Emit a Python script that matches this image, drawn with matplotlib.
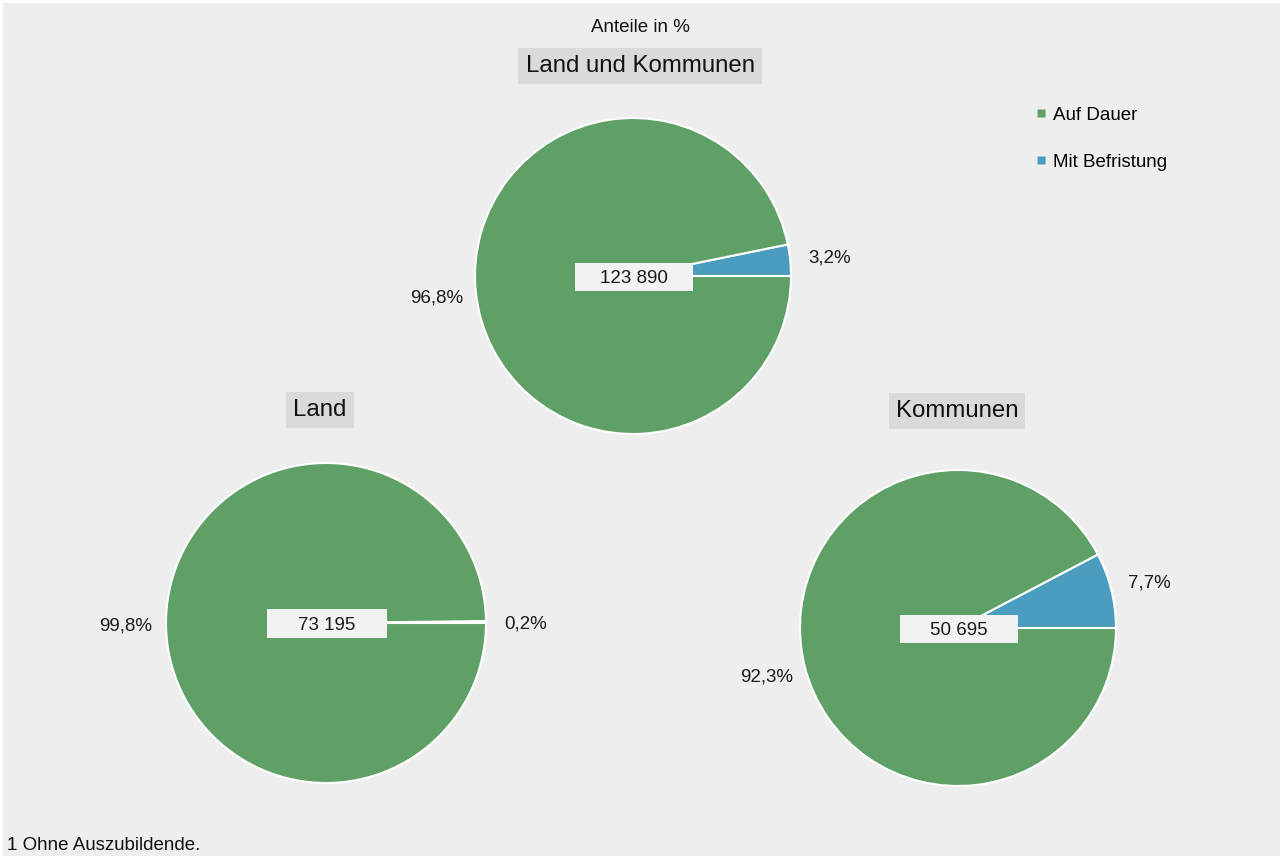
import matplotlib
matplotlib.use("Agg")
import matplotlib.pyplot as plt
from matplotlib.lines import Line2D
from matplotlib.patches import Rectangle

plt.rcParams['font.family'] = ['Liberation Sans', 'DejaVu Sans']

# Data
categories = ["Mit Befristung", "Auf Dauer"]
legend_order = ["Auf Dauer", "Mit Befristung"]
colors = {"Auf Dauer": "#5fa066", "Mit Befristung": "#4b9dc0"}
groups = ["Land und Kommunen", "Land", "Kommunen"]
shares = {
    "Land und Kommunen": [3.2, 96.8],
    "Land": [0.2, 99.8],
    "Kommunen": [7.7, 92.3],
}
totals = {"Land und Kommunen": "123 890", "Land": "73 195", "Kommunen": "50 695"}
title = "Anteile in %"
footnote = "1 Ohne Auszubildende."

W, H = 1284, 858
BG = "#edeeed"
FS = 13.5
fig = plt.figure(figsize=(W / 100, H / 100), dpi=100, facecolor="white")
# gray panel
fig.patches.append(Rectangle((3 / W, 2 / H), (W - 7) / W, (H - 5) / H,
                             transform=fig.transFigure, facecolor=BG,
                             edgecolor="none", zorder=-10))

# pie layout (centre x, centre y from top, radius, title pos) in pixels
layout = {
    "Land und Kommunen": (633, 276, 158, (640, 66)),
    "Land": (326, 623, 160, (320, 410)),
    "Kommunen": (958, 628, 158, (957, 411)),
}

def fmt(p):
    return f"{p:.1f}%".replace(".", ",")

for g in groups:
    cx, cy, r, (tx, ty) = layout[g]
    ax = fig.add_axes([(cx - r) / W, (H - cy - r) / H, 2 * r / W, 2 * r / H])
    wedges, texts, autotexts = ax.pie(
        shares[g], colors=[colors[c] for c in categories], startangle=0,
        counterclock=True, radius=1,
        wedgeprops=dict(edgecolor="white", linewidth=1.5),
        autopct=fmt, pctdistance=1.25,
        textprops=dict(fontsize=FS, color="#1a1a1a"))
    for t in autotexts:
        t.set_va("center_baseline")
    ax.set_xlim(-1, 1)
    ax.set_ylim(-1, 1)
    ax.set_aspect("equal")
    ax.axis("off")
    ax.add_patch(Rectangle((-0.37, -0.095), 0.75, 0.18, facecolor="#f1f2f1",
                           edgecolor="none", zorder=5))
    ax.text(0.005, -0.005, totals[g], ha="center", va="center_baseline",
            fontsize=FS, color="#1a1a1a", zorder=6)
    fig.text(tx / W, 1 - ty / H, g, ha="center", va="center", fontsize=17.3,
             color="#111111",
             bbox=dict(boxstyle="square,pad=0.3", facecolor="#d9dadb",
                       edgecolor="none"))

fig.text(640 / W, 1 - 27 / H, title, ha="center", va="center", fontsize=FS,
         color="#111111")
fig.text(7 / W, 1 - 845 / H, footnote, ha="left", va="center", fontsize=FS,
         color="#111111")

handles = [Line2D([], [], marker="s", linestyle="none", markersize=6,
                  markerfacecolor=colors[c], markeredgecolor="none")
           for c in legend_order]
fig.legend(handles, legend_order, loc="upper left",
           bbox_to_anchor=(1026 / W, 1 - 99 / H), frameon=False,
           fontsize=FS, labelspacing=1.6, handlelength=0.8,
           handletextpad=0.25, borderaxespad=0)

fig.savefig("out.png", dpi=100, facecolor="white")
